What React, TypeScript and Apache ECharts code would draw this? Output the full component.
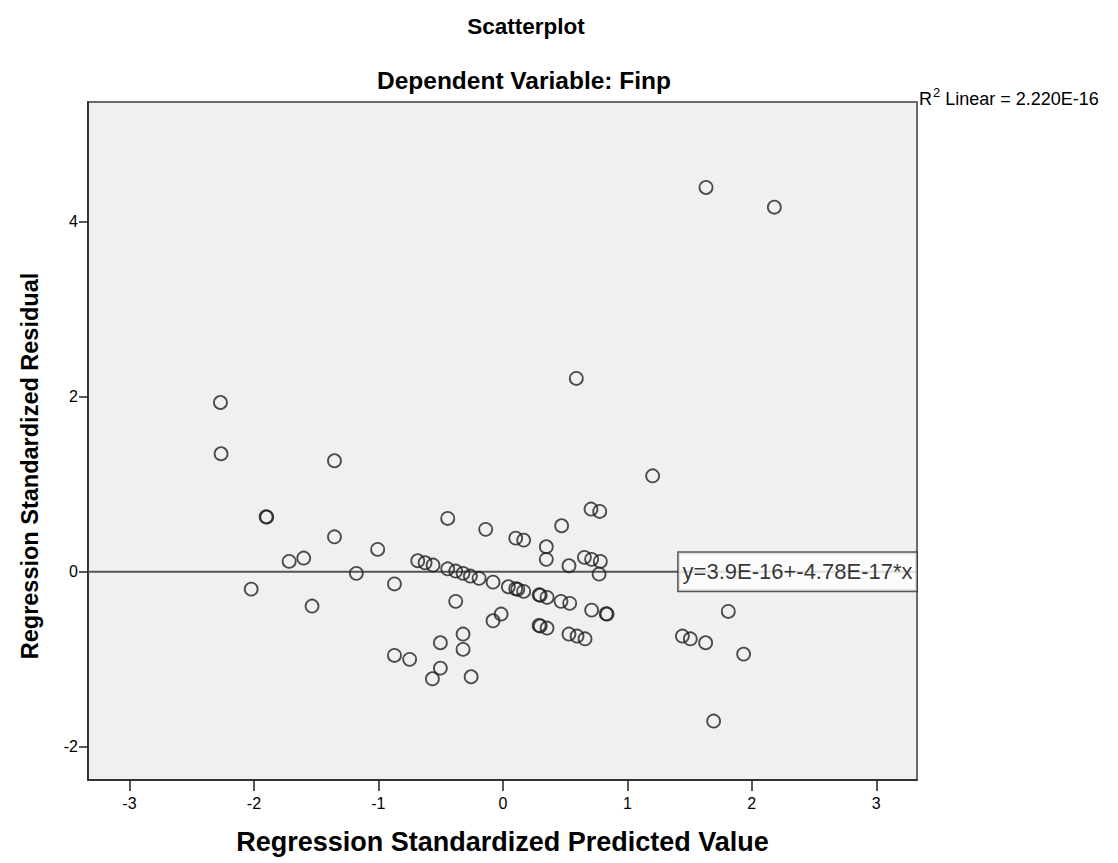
import React, { useEffect, useRef } from "react";
import * as echarts from "echarts";

const titleText = "Scatterplot";
const subtitleText = "Dependent Variable: Finp";
const xAxisName = "Regression Standardized Predicted Value";
const yAxisName = "Regression Standardized Residual";
const fitLabel = "y=3.9E-16+-4.78E-17*x";
const r2Value = "2.220E-16";

const xTicks = [-3, -2, -1, 0, 1, 2, 3];
const yTicks = [-2, 0, 2, 4];
const xRange = [-3.333, 3.327];
const yRange = [-2.38, 5.37];

const fitIntercept = 3.9e-16;
const fitSlope = -4.78e-17;

const xPred = [
  -2.269, -2.264, -1.353, -1.902, -1.897, -1.353, -1.717, -1.6, -1.006, -1.177,
  -2.022, -1.533, 0.59, 1.203, 0.708, 0.778, -0.443, -0.138, 0.472, 0.103,
  0.167, 0.349, 0.349, 0.531, 0.655, 0.713, 0.783, 0.773, -0.871, -0.684,
  -0.625, -0.561, -0.443, -0.379, -0.32, -0.261, -0.191, -0.079, 0.044, 0.103,
  0.12, 0.167, 0.291, 0.3, 0.355, 0.467, 0.537, 0.713, 0.837, 0.83,
  -0.379, -0.014, -0.079, 0.291, 0.3, 0.355, 0.531, 0.596, 0.66, -0.32,
  -0.502, -0.32, -0.871, -0.749, -0.502, -0.566, -0.255, 1.632, 2.181, 1.811,
  1.442, 1.506, 1.629, 1.934, 1.693,
];
const yResid = [
  1.935, 1.349, 1.269, 0.629, 0.625, 0.4, 0.119, 0.157, 0.256, -0.018,
  -0.198, -0.392, 2.21, 1.097, 0.717, 0.69, 0.61, 0.485, 0.526, 0.385,
  0.362, 0.286, 0.142, 0.069, 0.165, 0.142, 0.119, -0.026, -0.139, 0.126,
  0.103, 0.077, 0.034, 0.008, -0.018, -0.049, -0.075, -0.118, -0.171, -0.194,
  -0.2, -0.224, -0.263, -0.268, -0.293, -0.338, -0.361, -0.438, -0.483, -0.48,
  -0.338, -0.483, -0.56, -0.613, -0.62, -0.643, -0.712, -0.735, -0.766, -0.712,
  -0.811, -0.887, -0.956, -1.001, -1.101, -1.223, -1.2, 4.393, 4.168, -0.453,
  -0.735, -0.766, -0.811, -0.941, -1.706,
];

const FONT = "'Liberation Sans', Arial, sans-serif";

export default function App() {
  const ref = useRef<HTMLDivElement>(null);
  useEffect(() => {
    if (!ref.current) return;
    const chart = echarts.init(ref.current, null, { renderer: "svg" });
    const points = xPred.map((x, i) => [x, yResid[i]]);
    const fitLine = xRange.map((x) => [x, fitIntercept + fitSlope * x]);
    chart.setOption({
      animation: false,
      backgroundColor: "#ffffff",
      textStyle: { fontFamily: FONT },
      title: [
        {
          text: titleText,
          left: 521,
          top: 10,
          textAlign: "center",
          textStyle: { fontFamily: FONT, fontWeight: "bold", fontSize: 22.5, color: "#000" },
        },
        {
          text: subtitleText,
          left: 519,
          top: 63,
          textAlign: "center",
          textStyle: { fontFamily: FONT, fontWeight: "bold", fontSize: 24.5, color: "#000" },
        },
      ],
      grid: {
        left: 88,
        top: 102,
        width: 829,
        height: 678,
        show: true,
        backgroundColor: "#f0f0f0",
        borderColor: "#6a6a6a",
        borderWidth: 2,
      },
      xAxis: {
        type: "value",
        min: xRange[0],
        max: xRange[1],
        name: xAxisName,
        nameLocation: "middle",
        nameGap: 48,
        nameTextStyle: { fontFamily: FONT, fontWeight: "bold", fontSize: 27, color: "#000" },
        axisLine: { show: true, onZero: false, lineStyle: { color: "#222", width: 1.5 } },
        axisTick: { show: true, inside: false, length: 11, customValues: xTicks, lineStyle: { color: "#222", width: 1.5 } },
        axisLabel: { show: true, margin: 15, customValues: xTicks, fontFamily: FONT, fontSize: 16, color: "#000" },
        splitLine: { show: false },
      },
      yAxis: {
        type: "value",
        min: yRange[0],
        max: yRange[1],
        axisLine: { show: true, onZero: false, lineStyle: { color: "#222", width: 1.5 } },
        axisTick: { show: true, inside: false, length: 9, customValues: yTicks, lineStyle: { color: "#222", width: 1.5 } },
        axisLabel: { show: true, margin: 10, customValues: yTicks, fontFamily: FONT, fontSize: 16, color: "#000" },
        splitLine: { show: false },
      },
      graphic: [
        {
          type: "text",
          x: 30,
          y: 466,
          rotation: Math.PI / 2,
          style: {
            text: yAxisName,
            fontFamily: FONT,
            fontWeight: "bold",
            fontSize: 23.5,
            fill: "#000",
            align: "center",
            verticalAlign: "middle",
          },
        },
        {
          type: "text",
          left: 919,
          top: 86,
          style: {
            text: "{r|R}{s|2}{r| Linear = " + r2Value + "}",
            rich: {
              r: { fontFamily: FONT, fontSize: 18, fill: "#000", verticalAlign: "bottom", lineHeight: 22 },
              s: { fontFamily: FONT, fontSize: 13, fill: "#000", verticalAlign: "top", lineHeight: 22, padding: [0, 0, 9, 1] },
            },
          },
        },
      ],
      series: [
        {
          name: "fit",
          type: "line",
          data: fitLine,
          symbol: "none",
          lineStyle: { color: "#555", width: 2 },
          z: 2,
        },
        {
          name: "residuals",
          type: "scatter",
          data: points,
          symbol: "circle",
          symbolSize: 13,
          itemStyle: { color: "rgba(0,0,0,0)", borderColor: "#222", borderWidth: 1.8 },
          z: 3,
        },
        {
          name: "fitLabel",
          type: "scatter",
          data: [fitLine[1]],
          symbol: "circle",
          symbolSize: 1,
          itemStyle: { color: "rgba(0,0,0,0)" },
          z: 4,
          label: {
            show: true,
            position: "left",
            distance: 0,
            formatter: fitLabel,
            fontFamily: FONT,
            fontSize: 22,
            lineHeight: 22,
            color: "#000",
            backgroundColor: "#ffffff",
            borderColor: "#333",
            borderWidth: 1.5,
            padding: [8, 4, 8, 4],
          },
        },
      ],
    });
    return () => chart.dispose();
  }, []);
  return (
    <div
      ref={ref}
      style={{ position: "fixed", left: 0, top: 0, width: 1118, height: 863 }}
    />
  );
}
